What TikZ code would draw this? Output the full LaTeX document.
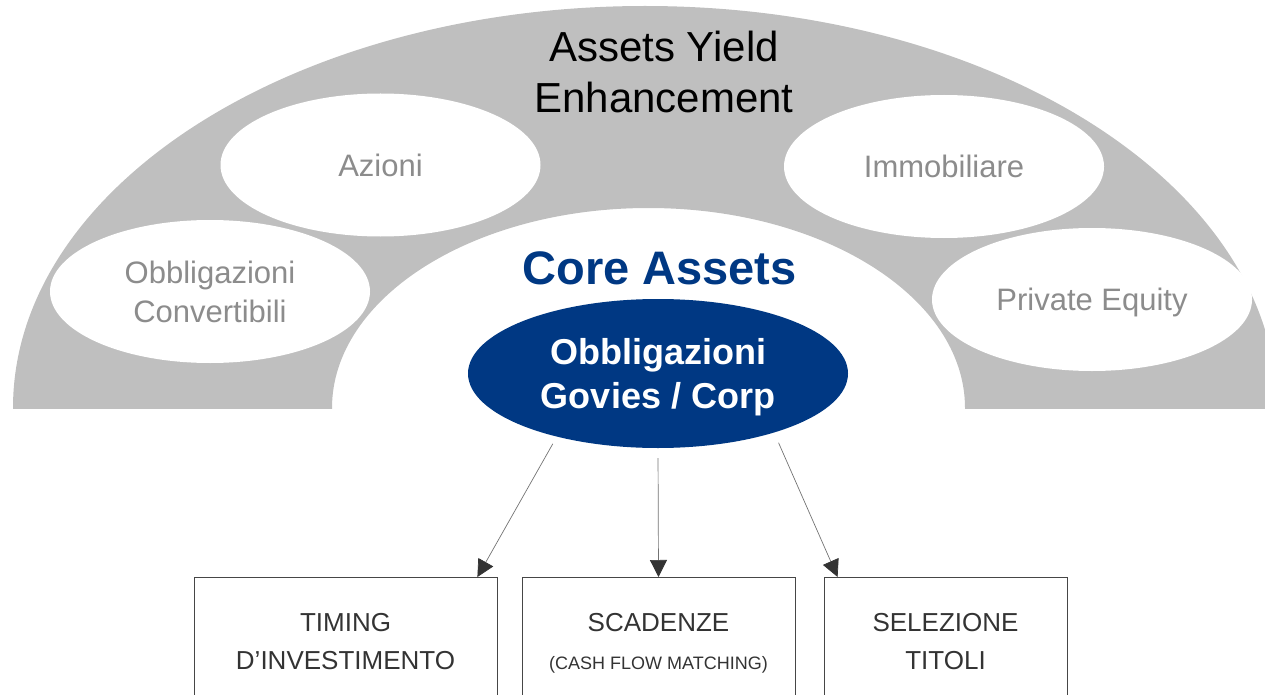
\documentclass[tikz,border=0pt]{standalone}
\usepackage{fontspec}
\setmainfont{Liberation Sans}
\usetikzlibrary{arrows.meta,shapes.geometric}
\definecolor{arcgrey}{RGB}{191,191,191}
\definecolor{softgrey}{RGB}{140,140,140}
\definecolor{coreblue}{RGB}{0,56,131}
\definecolor{boxgrey}{RGB}{70,70,70}
\tikzset{
  asset/.style={ellipse,fill=white,minimum width=320pt,minimum height=143pt,inner sep=0pt,text depth=0pt,
    text=softgrey,align=center,font=\fontsize{31}{39}\selectfont},
  task/.style={draw=boxgrey,line width=0.8pt,minimum height=128pt,anchor=north,text depth=0pt,
    text=black!80,align=center,font=\fontsize{26}{38}\selectfont},
  link/.style={draw=black!55,line width=0.7pt,-{Triangle[length=17pt,width=17pt,color=black!80]}}
}
\begin{document}
\begin{tikzpicture}[x=1pt,y=-1pt]
      \clip (0,0) rectangle (1265,695);
      \begin{scope}
        \clip (0,0) rectangle (1265,408);
        \fill[arcgrey,even odd rule] (645,408) ellipse (632 and 402) (648.5,408) ellipse (316.5 and 200);
      \end{scope}
      \node[align=center,font=\fontsize{42}{51}\selectfont] (yield) at (664,72) {Assets Yield\\Enhancement};
      \node[asset] (stocks) at (380.5,165) {Azioni};
      \node[asset] (realestate) at (944,166.5) {Immobiliare};
      \node[asset] (convert) at (210,291.5) {Obbligazioni\\Convertibili};
      \node[asset] (equity) at (1092,299.5) {Private Equity};
      \node[text=coreblue,font=\bfseries\fontsize{47}{56}\selectfont] (core) at (659.5,268) {Core Assets};
      \node[ellipse,fill=coreblue,minimum width=380pt,minimum height=149pt,inner sep=0pt,text depth=0pt,
        text=white,align=center,font=\bfseries\fontsize{36}{44}\selectfont] (govies) at (658,373.5) {Obbligazioni\\Govies / Corp};
      \node[task,minimum width=303pt] (timing) at (345.5,577) {TIMING\\D’INVESTIMENTO};
      \node[task,minimum width=273pt] (scadenze) at (658.5,577) {SCADENZE\\{\fontsize{18}{38}\selectfont (CASH FLOW MATCHING)}};
      \node[task,minimum width=243pt] (selezione) at (945.5,577) {SELEZIONE\\TITOLI};
      \draw[link,shorten <=8pt] (govies.212) -- ([xshift=-20pt]timing.north east);
      \draw[link,shorten <=10pt] (govies.south) -- (scadenze.north);
      \draw[link,shorten <=11pt] (govies.333) -- ([xshift=14pt]selezione.north west);
    \end{tikzpicture}
\end{document}
